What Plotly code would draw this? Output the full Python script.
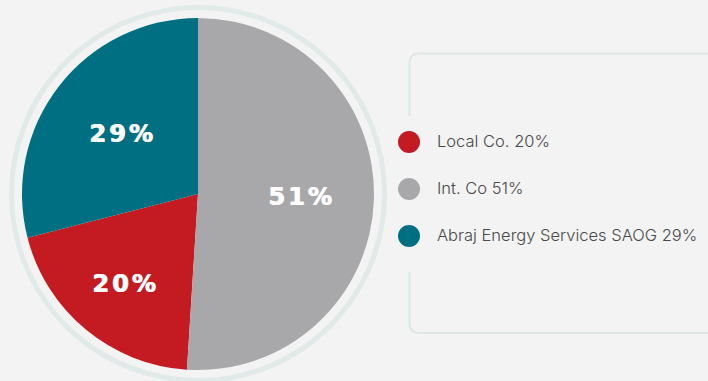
import math
import plotly.graph_objects as go

# Shareholding split
labels = ["Local Co.", "Int. Co", "Abraj Energy Services SAOG"]
values = [20, 51, 29]
colors = ["#c41a21", "#a8a8aa", "#006f81"]

W, H = 708, 381


def px(x):
    return x / W


def py(y):
    return 1 - y / H


# pie geometry in pixels
cx, cy, r = 198, 194, 176
total = sum(values)
# slices run counterclockwise; Int. Co ends at 12 o'clock
rotation = values[1] / total * 360

fig = go.Figure(
    go.Pie(
        labels=labels,
        values=values,
        marker=dict(colors=colors, line=dict(width=0)),
        sort=False,
        direction="counterclockwise",
        rotation=rotation,
        textinfo="none",
        hovertemplate="%{label}: %{value}%<extra></extra>",
        showlegend=False,
        domain=dict(x=[px(cx - r), px(cx + r)], y=[py(cy + r), py(cy - r)]),
    )
)

# percentage labels at each slice's mid-angle (angles clockwise from 12 o'clock)
label_radius = [0.66, 0.575, 0.56]
annotations = []
start = rotation + values[0] / total * 360
for i, v in enumerate(values):
    sweep = -v / total * 360
    mid = math.radians(start + sweep / 2)
    start += sweep
    lx = cx + label_radius[i] * r * math.sin(mid) + 1.5
    ly = cy - label_radius[i] * r * math.cos(mid)
    annotations.append(
        dict(
            x=px(lx), y=py(ly), xref="paper", yref="paper",
            text=f'<span style="letter-spacing:3px">{v}%</span>',
            showarrow=False,
            xanchor="center", yanchor="middle",
            font=dict(
                family="DejaVu Sans", size=24, color="white", weight="bold",
                shadow="1px 0 0 #ffffff",
            ),
        )
    )

shapes = []
# outer ring around the pie
ring_r = 186.5
shapes.append(
    dict(
        type="circle", xref="paper", yref="paper", layer="below",
        x0=px(cx - ring_r), x1=px(cx + ring_r),
        y0=py(cy + ring_r), y1=py(cy - ring_r),
        line=dict(color="#e0eae8", width=5),
    )
)

# legend panel outline (left edge opened where the keys sit)
bx, btop, bbot, cr = 409.5, 53.5, 333, 10
box_line = dict(color="#dde8e6", width=2)
shapes.append(
    dict(
        type="path", xref="paper", yref="paper", layer="below",
        path=(
            f"M {px(bx)},{py(116)} L {px(bx)},{py(btop + cr)} "
            f"Q {px(bx)},{py(btop)} {px(bx + cr)},{py(btop)} L {px(W)},{py(btop)}"
        ),
        line=box_line,
    )
)
shapes.append(
    dict(
        type="path", xref="paper", yref="paper", layer="below",
        path=(
            f"M {px(bx)},{py(272)} L {px(bx)},{py(bbot - cr)} "
            f"Q {px(bx)},{py(bbot)} {px(bx + cr)},{py(bbot)} L {px(W)},{py(bbot)}"
        ),
        line=box_line,
    )
)

# legend keys and texts
key_y = [142, 189, 236]
key_x, key_r, text_x = 409, 11, 435
for i, lab in enumerate(labels):
    shapes.append(
        dict(
            type="circle", xref="paper", yref="paper",
            x0=px(key_x - key_r), x1=px(key_x + key_r),
            y0=py(key_y[i] + key_r), y1=py(key_y[i] - key_r),
            fillcolor=colors[i], line=dict(width=0),
        )
    )
    annotations.append(
        dict(
            x=px(text_x), y=py(key_y[i] - 1), xref="paper", yref="paper",
            text=f"{lab} {values[i]}%", showarrow=False,
            xanchor="left", yanchor="middle",
            font=dict(family="Inter", size=16.5, color="#484848", weight=300),
        )
    )

fig.update_layout(
    width=W, height=H,
    margin=dict(l=0, r=0, t=0, b=0),
    paper_bgcolor="#f3f3f3",
    plot_bgcolor="#f3f3f3",
    shapes=shapes,
    annotations=annotations,
)

fig.write_html("out.html")
